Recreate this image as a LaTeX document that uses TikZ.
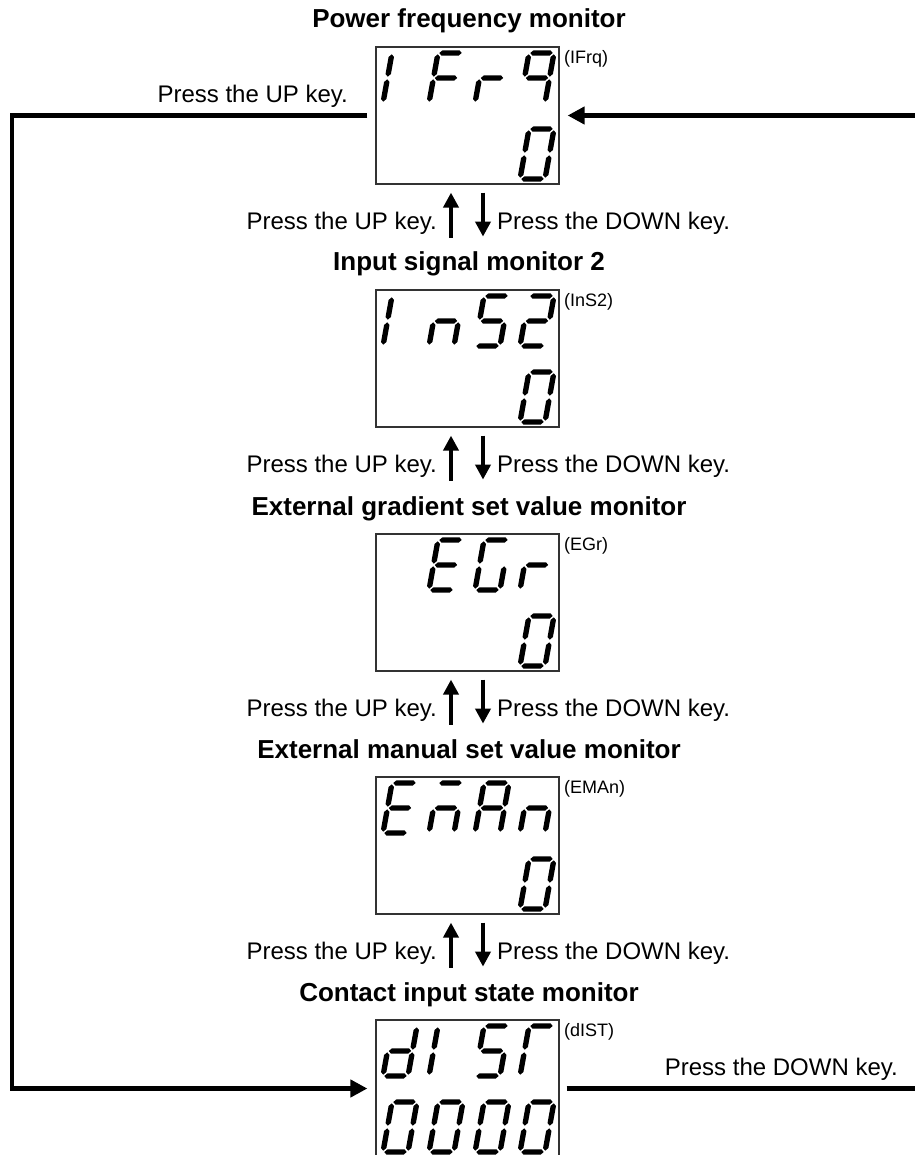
\documentclass[tikz,border=0pt]{standalone}
\usepackage{fontspec}
\setmainfont{Liberation Sans}
\usetikzlibrary{arrows.meta}
\def\segh{2.7}
\newcommand\hseg[3]{\fill (#2,#1) -- (#2+\segh,#1+\segh) -- (#3-\segh,#1+\segh) -- (#3,#1) -- (#3-\segh,#1-\segh) -- (#2+\segh,#1-\segh) -- cycle;}
\newcommand\vseg[3]{\fill (#1,#2) -- (#1+\segh,#2+\segh) -- (#1+\segh,#3-\segh) -- (#1,#3) -- (#1-\segh,#3-\segh) -- (#1-\segh,#2+\segh) -- cycle;}
\newcommand\sgA{\hseg{50}{1.3}{23.7}}
\newcommand\sgB{\vseg{25}{26.3}{48.7}}
\newcommand\sgC{\vseg{25}{1.3}{23.7}}
\newcommand\sgD{\hseg{0}{1.3}{23.7}}
\newcommand\sgE{\vseg{0}{1.3}{23.7}}
\newcommand\sgF{\vseg{0}{26.3}{48.7}}
\newcommand\sgG{\hseg{25}{1.3}{23.7}}
\newcommand\sgZero{\sgA\sgB\sgC\sgD\sgE\sgF}
% digit: x of cell, y of baseline (page coords, y down), segments
\newcommand\digit[3]{\begin{scope}[shift={(#1,#2)},y=1pt,xslant=0.18,black]#3\end{scope}}
\tikzset{
  dispbox/.style={draw=black!80,line width=1.2pt,minimum width=183pt,minimum height=137pt,inner sep=0pt},
  title/.style={font=\fontsize{26}{30}\selectfont\bfseries,anchor=base,inner sep=0pt},
  keytext/.style={font=\fontsize{24}{28}\selectfont,inner sep=0pt},
  code/.style={font=\fontsize{18}{21}\selectfont,anchor=north west,inner sep=0pt},
  conn/.style={line width=4.5pt},
  pairarrow/.style={line width=4pt,-{Triangle[length=15pt,width=15pt]}},
  bigtip/.style={-{Triangle[length=17pt,width=17pt]}}
}
\begin{document}
\begin{tikzpicture}[x=1pt,y=-1pt]
\useasboundingbox (0,0) rectangle (914,1155);
% boxes
\node[dispbox] (b1) at (467.5,115.5) {};
\node[dispbox] (b2) at (467.5,358.5) {};
\node[dispbox] (b3) at (467.5,602.5) {};
\node[dispbox] (b4) at (467.5,845.5) {};
\node[dispbox] (b5) at (467.5,1088.5) {};
% titles
\node[title] (t1) at (469,28) {Power frequency monitor};
\node[title] (t2) at (469,271) {Input signal monitor 2};
\node[title] (t3) at (469,515) {External gradient set value monitor};
\node[title] (t4) at (469,758) {External manual set value monitor};
\node[title] (t5) at (469,1001) {Contact input state monitor};
% codes
\node[code] (c1) at (564,50) {(IFrq)};
\node[code] (c2) at (564,293) {(InS2)};
\node[code] (c3) at (564,537) {(EGr)};
\node[code] (c4) at (564,780) {(EMAn)};
\node[code] (c5) at (564,1023) {(dIST)};
% digits box 1 (T=47)
\digit{383}{103}{\sgE\sgF}
\digit{429}{103}{\sgA\sgF\sgG\sgE}
\digit{475}{103}{\sgG\sgE}
\digit{520}{103}{\sgA\sgB\sgC\sgF\sgG}
\digit{520}{179}{\sgZero}
% box 2 (T=290)
\digit{383}{346}{\sgE\sgF}
\digit{429}{346}{\sgG\sgE\sgC}
\digit{475}{346}{\sgA\sgF\sgG\sgC\sgD}
\digit{520}{346}{\sgA\sgB\sgG\sgE\sgD}
\digit{520}{422}{\sgZero}
% box 3 (T=534)
\digit{429}{590}{\sgA\sgF\sgG\sgE\sgD}
\digit{475}{590}{\sgA\sgF\sgE\sgD\sgC}
\digit{520}{590}{\sgG\sgE}
\digit{520}{666}{\sgZero}
% box 4 (T=777)
\digit{383}{833}{\sgA\sgF\sgG\sgE\sgD}
\digit{429}{833}{\sgA\sgG\sgE\sgC}
\digit{475}{833}{\sgA\sgB\sgC\sgE\sgF\sgG}
\digit{520}{833}{\sgG\sgE\sgC}
\digit{520}{909}{\sgZero}
% box 5 (T=1020)
\digit{383}{1076}{\sgB\sgC\sgD\sgE\sgG}
\digit{429}{1076}{\sgE\sgF}
\digit{475}{1076}{\sgA\sgF\sgG\sgC\sgD}
\digit{520}{1076}{\sgA\sgF\sgE}
\digit{383}{1152}{\sgZero}
\digit{429}{1152}{\sgZero}
\digit{475}{1152}{\sgZero}
\digit{520}{1152}{\sgZero}
% pair arrows and labels
\foreach \b in {b1,b2,b3,b4}{
  \draw[pairarrow] ([xshift=-16.5pt,yshift=-53pt]\b.south) -- ([xshift=-16.5pt,yshift=-8pt]\b.south);
  \draw[pairarrow] ([xshift=15.5pt,yshift=-8pt]\b.south) -- ([xshift=15.5pt,yshift=-52pt]\b.south);
  \node[keytext,anchor=base east] (up\b) at ([xshift=-30.5pt,yshift=-45pt]\b.south) {Press the UP key.};
  \node[keytext,anchor=base west] (dn\b) at ([xshift=29.5pt,yshift=-45pt]\b.south) {Press the DOWN key.};
}
% loop connectors
\coordinate (L) at (12,0);
\coordinate (R) at (916,0);
\draw[conn,bigtip] ([xshift=-8pt]b1.west) -- (b1.west -| L) -- (b5.west -| L) -- ([xshift=-8pt]b5.west);
\draw[conn,bigtip] (b1.east -| R) -- ([xshift=8pt]b1.east);
\draw[conn] ([xshift=7pt]b5.east) -- (b5.east -| R);
\node[keytext,anchor=base east] (kup) at (348,103) {Press the UP key.};
\node[keytext,anchor=base east] (kdn) at (898,1075) {Press the DOWN key.};
\end{tikzpicture}
\end{document}
